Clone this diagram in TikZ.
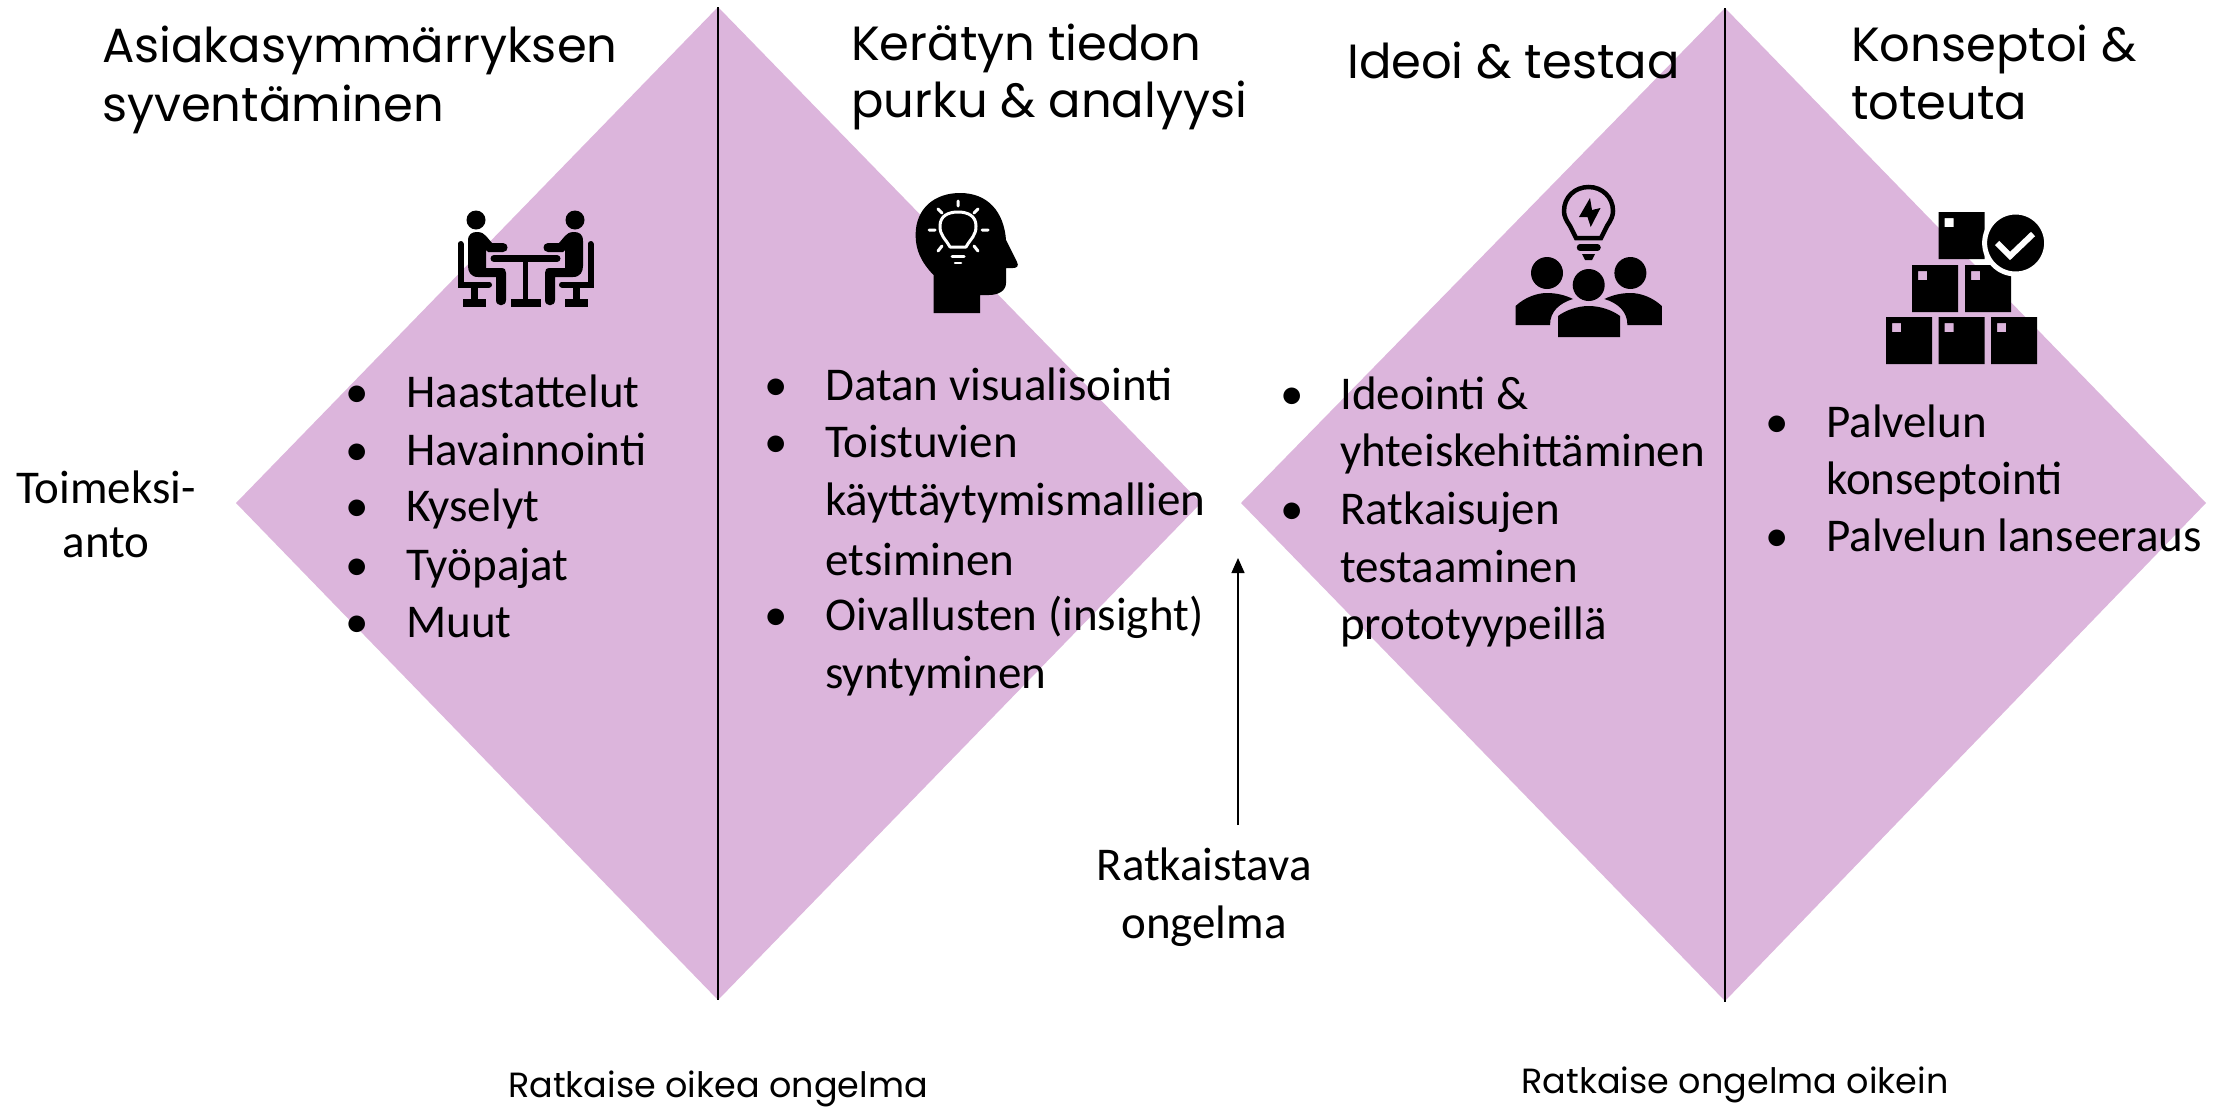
\documentclass[tikz,border=0pt]{standalone}
\usepackage{fontspec}
\setmainfont{Carlito}
\newfontfamily\titlefont{Poppins}
\usetikzlibrary{arrows.meta}
\definecolor{lilac}{HTML}{DCB5DC}
\tikzset{
  diamondfill/.style={fill=lilac,draw=none},
  divider/.style={draw=black,line width=2.4pt},
  body/.style={inner sep=0pt,anchor=base west,font=\fontsize{47}{56}\selectfont},
  bodyc/.style={inner sep=0pt,anchor=base,font=\fontsize{47}{56}\selectfont},
  ttl/.style={inner sep=0pt,anchor=base west,font=\titlefont\fontsize{48}{58}\selectfont},
  foot/.style={inner sep=0pt,anchor=base,font=\titlefont\fontsize{35}{42}\selectfont},
  icon/.style={fill=black,draw=none},
  iconline/.style={draw=black,line width=#1,line cap=round},
  glow/.style={draw=white,line width=#1,line cap=round,line join=round},
}
\begin{document}
\begin{tikzpicture}[x=1pt,y=-1pt]
\useasboundingbox (0,0) rectangle (2226,1106);
% diamonds
\path[diamondfill] (236,503) -- (718,7) -- (1201,503) -- (718,1000) -- cycle;
\path[diamondfill] (1241,503) -- (1725,8) -- (2206,503) -- (1725,1001) -- cycle;
\coordinate (d1t) at (718,7); \coordinate (d1b) at (718,1000);
\coordinate (d2t) at (1725,8); \coordinate (d2b) at (1725,1002);
\draw[divider] (d1t) -- (d1b);
\draw[divider] (d2t) -- (d2b);
% arrow
\coordinate (arrowfrom) at (1238,825); \coordinate (arrowto) at (1238,558);
\draw[line width=1.4pt,-{Triangle[length=15pt,width=13pt]}] (arrowfrom) -- (arrowto);
% titles
\node[ttl] (t1a) at (102,62) {Asiakasymmärryksen};
\node[ttl] (t1b) at (102,121) {syventäminen};
\node[ttl] (t2a) at (851,60) {Kerätyn tiedon};
\node[ttl] (t2b) at (851,117) {purku \& analyysi};
\node[ttl] (t3) at (1347,78) {Ideoi \& testaa};
\node[ttl] (t4a) at (1851,61) {Konseptoi \&};
\node[ttl] (t4b) at (1851,119) {toteuta};
% side labels
\node[bodyc] (ta) at (106,503) {Toimeksi-};
\node[bodyc] (tb) at (106,557) {anto};
\node[bodyc] (ra) at (1204,880) {Ratkaistava};
\node[bodyc] (rb) at (1204,938) {ongelma};
% foot
\node[foot] (f1) at (718,1097) {Ratkaise oikea ongelma};
\node[foot] (f2) at (1735,1093) {Ratkaise ongelma oikein};
% list 1
\node[body] (b11) at (345,407) {•}; \node[body] (l11) at (406,407) {Haastattelut};
\node[body] (b12) at (345,465) {•}; \node[body] (l12) at (406,465) {Havainnointi};
\node[body] (b13) at (345,521) {•}; \node[body] (l13) at (406,521) {Kyselyt};
\node[body] (b14) at (345,580) {•}; \node[body] (l14) at (406,580) {Työpajat};
\node[body] (b15) at (345,637) {•}; \node[body] (l15) at (406,637) {Muut};
% list 2
\node[body] (b21) at (764,400) {•}; \node[body] (l21) at (825,400) {Datan visualisointi};
\node[body] (b22) at (764,457) {•}; \node[body] (l22) at (825,457) {Toistuvien};
\node[body] (l23) at (825,515) {käyttäytymismallien};
\node[body] (l24) at (825,575) {etsiminen};
\node[body] (b25) at (764,630) {•}; \node[body] (l25) at (825,630) {Oivallusten (insight)};
\node[body] (l26) at (825,688) {syntyminen};
% list 3
\node[body] (b31) at (1280,409) {•}; \node[body] (l31) at (1340,409) {Ideointi \&};
\node[body] (l32) at (1340,466) {yhteiskehittäminen};
\node[body] (b33) at (1280,524) {•}; \node[body] (l33) at (1340,524) {Ratkaisujen};
\node[body] (l34) at (1340,582) {testaaminen};
\node[body] (l35) at (1340,639) {prototyypeillä};
% list 4
\node[body] (b41) at (1765,437) {•}; \node[body] (l41) at (1826,437) {Palvelun};
\node[body] (l42) at (1826,494) {konseptointi};
\node[body] (b43) at (1765,551) {•}; \node[body] (l43) at (1826,551) {Palvelun lanseeraus};
% icon: meeting
\fill[icon] (476,220) ellipse (9.5 and 9.5);
\fill[icon] (575,220) ellipse (9.5 and 9.5);
\draw[iconline=7pt] (494,258.5) -- (557,258.5);
\fill[icon] (523,262) rectangle (528,300);
\fill[icon] (511,299) rectangle (541,307);
\foreach \s/\o in {1/0,-1/1051}{
  \begin{scope}[shift={(\o,0)},xscale=\s]
    \fill[icon] (468,241) .. controls (468,234) and (472,232) .. (477,232) .. controls (482,232) and (484,234) .. (486,236) -- (492,243) -- (503,243) .. controls (509,243) and (509,252) .. (503,252) -- (488,252) -- (486,250) -- (486,268) -- (501,268) .. controls (505,268) and (506,270) .. (506,273) -- (506,300) .. controls (506,307) and (496,307) .. (496,300) -- (496,277) -- (478,277) .. controls (471,277) and (468,272) .. (468,266) -- cycle;
    \draw[iconline=6pt] (460.5,244) -- (460.5,284.5) -- (489,284.5);
    \fill[icon] (471,288) rectangle (478,300);
    \fill[icon] (463,299) rectangle (486,307);
  \end{scope}
}
% icon: head
\fill[icon] (933.5,275) .. controls (921,262) and (915.6,250) .. (915.6,235) .. controls (915.6,208) and (935,193) .. (960,193) .. controls (988,193) and (1004,212) .. (1006,240) -- (1017,262) .. controls (1019,266) and (1017,268) .. (1013,268) -- (1006,268) -- (1006,283) .. controls (1006,291) and (998,295) .. (989,295) -- (980,295) -- (980,313) -- (933.5,313) -- cycle;
\draw[glow=3pt] (950,247) .. controls (945,238) and (940,236) .. (940,226) .. controls (940,216) and (948,212) .. (958,212) .. controls (968,212) and (976,216) .. (976,226) .. controls (976,236) and (971,238) .. (966,247) -- cycle;
\draw[glow=3pt] (952,256) -- (964,256);
\draw[glow=2.5pt] (955,263) -- (961,263);
\draw[glow=3pt] (958,201) -- (958,206) (938,209) -- (942,213) (978,209) -- (974,213) (929,230) -- (935,230) (982,230) -- (988,230) (938,251) -- (942,246) (978,251) -- (974,246);
% icon: idea team
\draw[draw=black,line width=4.5pt] (1576,238) -- (1570,226) .. controls (1566,220) and (1564,216) .. (1564,211) .. controls (1564,197) and (1575,187) .. (1588.7,187) .. controls (1602,187) and (1613,197) .. (1613,211) .. controls (1613,216) and (1611,220) .. (1607,226) -- (1601,238) -- cycle;
\draw[iconline=6.5pt] (1580,247.5) -- (1597.5,247.5);
\fill[icon] (1582,254) -- (1595,254) -- (1592,260) -- (1585,260) -- cycle;
\fill[icon] (1590,198) -- (1579,217) -- (1587.5,217) -- (1590.7,227) -- (1600.5,208) -- (1592,210) -- cycle;
\fill[icon] (1547,273) ellipse (16 and 16);
\fill[icon] (1630.4,273) ellipse (16 and 16);
\fill[icon] (1588.7,285) ellipse (16 and 16);
\fill[icon] (1558,337) -- (1558,316) .. controls (1566,310) and (1578,306) .. (1588.7,306) .. controls (1600,306) and (1612,310) .. (1620,316) -- (1620,337) -- cycle;
\foreach \s/\o in {1/0,-1/3177.4}{
  \begin{scope}[shift={(\o,0)},xscale=\s]
    \fill[icon] (1515.6,325) -- (1515.6,306) .. controls (1524,298) and (1536,293) .. (1547,293) .. controls (1556,293) and (1565,295) .. (1573,299) .. controls (1560,303) and (1550,311) .. (1550,325) -- cycle;
  \end{scope}
}
% icon: boxes
\foreach \x/\y in {1938.5/212,1912/265,1965/265,1886/317,1938.5/317,1991/317}{
  \fill[icon,even odd rule] (\x,\y) rectangle +(46,47) (\x+6,\y+6) rectangle +(9,9);
}
\fill[icon,draw=white,line width=5pt] (2015.6,243) circle (31);
\draw[glow=6pt,line cap=butt,line join=miter] (1997,243) -- (2010,256) -- (2033,234);
\end{tikzpicture}
\end{document}
